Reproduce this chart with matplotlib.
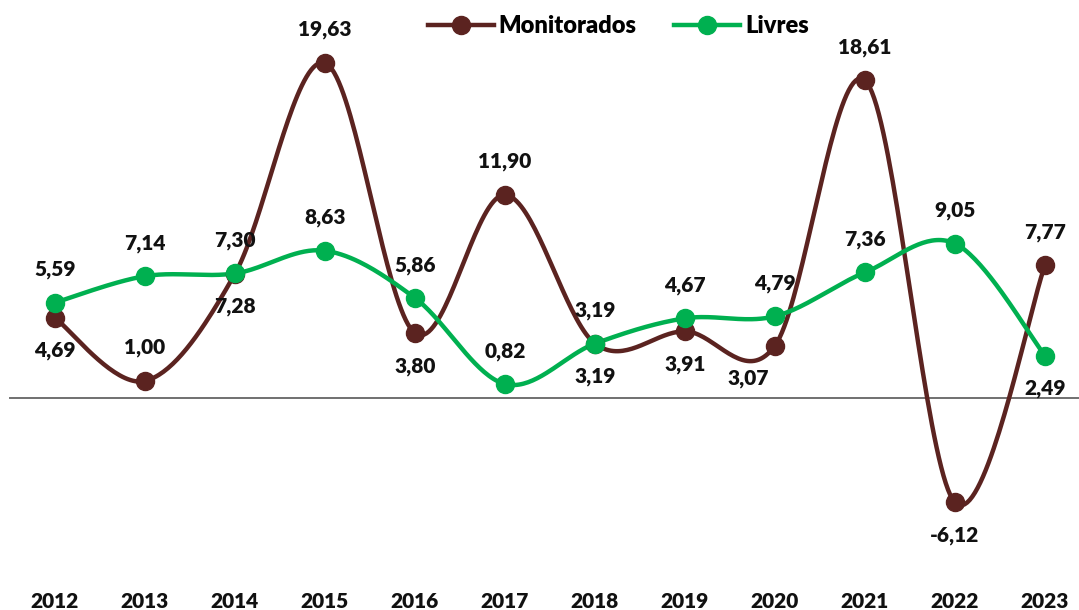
import numpy as np
import matplotlib.pyplot as plt

anos = ['2012', '2013', '2014', '2015', '2016', '2017', '2018', '2019', '2020', '2021', '2022', '2023']
monitorados = [4.69, 1.00, 7.28, 19.63, 3.80, 11.90, 3.19, 3.91, 3.07, 18.61, -6.12, 7.77]
livres = [5.59, 7.14, 7.30, 8.63, 5.86, 0.82, 3.19, 4.67, 4.79, 7.36, 9.05, 2.49]

# posicao dos rotulos: +1 acima, -1 abaixo
pos_mon = [-1, 1, -1, 1, -1, 1, 1, -1, -1, 1, -1, 1]
pos_liv = [1, 1, 1, 1, 1, 1, -1, 1, 1, 1, 1, -1]

cor_mon = '#5B2320'
cor_liv = '#00B050'
plt.rcParams['font.family'] = ['Lato', 'DejaVu Sans']


def suave(y, n=40):
    # curva suavizada tipo excel (catmull-rom)
    x = np.arange(len(y), dtype=float)
    p = np.column_stack([x, y])
    pts = []
    for i in range(len(p) - 1):
        p0 = p[i - 1] if i > 0 else p[i]
        p1 = p[i]
        p2 = p[i + 1]
        p3 = p[i + 2] if i + 2 < len(p) else p[i + 1]
        c1 = p1 + (p2 - p0) / 6
        c2 = p2 - (p3 - p1) / 6
        t = np.linspace(0, 1, n)[:, None]
        seg = (1 - t)**3 * p1 + 3 * (1 - t)**2 * t * c1 + 3 * (1 - t) * t**2 * c2 + t**3 * p2
        pts.append(seg)
    pts = np.vstack(pts)
    return pts[:, 0], pts[:, 1]


fig = plt.figure(figsize=(10.79, 6.10), dpi=100)
ax = fig.add_axes([0, 0, 1, 1])
ax.set_xlim(-0.611, 11.378)
ax.set_ylim(-12.42, 23.32)
ax.axis('off')

ax.plot([-0.5, 11.5], [0, 0], color='#707070', lw=1.4, zorder=1)

x = np.arange(len(anos))
for serie, cor, nome in [(monitorados, cor_mon, 'Monitorados'), (livres, cor_liv, 'Livres')]:
    xs, ys = suave(serie)
    ax.plot(xs, ys, color=cor, lw=3.2, zorder=2, solid_capstyle='round')
    ax.plot(x, serie, 'o', color=cor, ms=13, zorder=3)
    ax.plot([], [], '-o', color=cor, lw=3.2, ms=13, label=nome)

for serie, pos in [(monitorados, pos_mon), (livres, pos_liv)]:
    for i, (v, p) in enumerate(zip(serie, pos)):
        dx = 0
        if serie is monitorados and i == 8:
            dx = -0.3
        ax.annotate(f'{v:.2f}'.replace('.', ','), (i, v), xytext=(dx * 90, 33 * p),
                    textcoords='offset pixels', ha='center', va='center',
                    fontsize=15, fontweight='heavy', color='#111111')

for i, a in enumerate(anos):
    ax.text(i, -11.9, a, ha='center', va='center', fontsize=15, fontweight='heavy', color='#111111')

fig.legend(loc='upper center', bbox_to_anchor=(0.573, 1.01), ncol=2, frameon=False,
           prop={'weight': 'heavy', 'size': 17}, handlelength=2.8, columnspacing=1.6, handletextpad=0.2)

fig.savefig('out.png', dpi=100)
